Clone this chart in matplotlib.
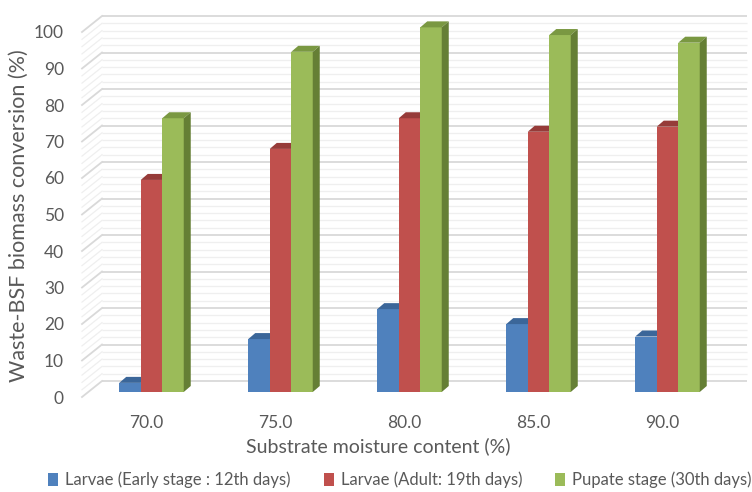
import matplotlib
matplotlib.use("Agg")
import matplotlib.pyplot as plt
from matplotlib.patches import Polygon, Patch

plt.rcParams['font.family'] = ['Lato', 'DejaVu Sans']

# moisture levels and conversion (%) per stage
moisture = ["70.0", "75.0", "80.0", "85.0", "90.0"]
early_larvae = [2.5, 14.5, 22.7, 18.6, 15.2]
adult_larvae = [58.1, 66.6, 75.0, 71.3, 72.7]
pupae = [75.0, 93.2, 99.9, 97.8, 95.7]

series_names = ["Larvae (Early stage : 12th days)",
                "Larvae (Adult: 19th days)",
                "Pupate stage (30th days)"]
front_colors = ["#4F81BD", "#C0504D", "#9BBB59"]
top_colors = ["#3B6699", "#963B39", "#7A9842"]
side_color = "#657F35"
text_color = "#595959"

W, H = 752, 492
fig = plt.figure(figsize=(W / 100, H / 100), dpi=100)
ax = fig.add_axes([82 / W, 95 / H, 645 / W, 365 / H])
ax.set_xlim(-0.5, 4.5)
ax.set_ylim(0, 100)

# pixel -> data conversion for the fake depth
px_x = 1 / 129.0
px_y = 100 / 365.0
wall_dx, wall_dy = 20 * px_x, 16 * px_y
bar_fx, bar_fy = 5 * px_x, 5 * px_y        # bar front plane
bar_ddx, bar_ddy = 7 * px_x, 6 * px_y      # bar depth

# back wall + side wall gridlines
for v in range(0, 101, 2):
    major = v % 10 == 0
    col = "#d9d9d9" if major else "#efefef"
    lw = 1.3 if major else 0.9
    ax.plot([-0.5 + wall_dx, 4.5 + wall_dx], [v + wall_dy, v + wall_dy],
            color=col, lw=lw, zorder=0, clip_on=False, solid_capstyle='butt')
    ax.plot([-0.5, -0.5 + wall_dx], [v, v + wall_dy],
            color=col, lw=lw, zorder=0, clip_on=False)

bw = 0.5 / 3
all_series = [early_larvae, adult_larvae, pupae]
for i in range(len(moisture)):
    for s, vals in enumerate(all_series):
        v = vals[i]
        x0 = i - 0.25 + s * bw + bar_fx
        x1 = x0 + bw
        ax.bar(x0, v, width=bw, bottom=bar_fy, align='edge',
               color=front_colors[s], edgecolor='none', zorder=2 + i, clip_on=False)
        top = [(x0, bar_fy + v), (x1, bar_fy + v),
               (x1 + bar_ddx, bar_fy + v + bar_ddy), (x0 + bar_ddx, bar_fy + v + bar_ddy)]
        ax.add_patch(Polygon(top, closed=True, facecolor=top_colors[s],
                             edgecolor='none', zorder=2 + i, clip_on=False))
        if s == len(all_series) - 1:
            side = [(x1, bar_fy), (x1 + bar_ddx, bar_fy + bar_ddy),
                    (x1 + bar_ddx, bar_fy + v + bar_ddy), (x1, bar_fy + v)]
            ax.add_patch(Polygon(side, closed=True, facecolor=side_color,
                                 edgecolor='none', zorder=2 + i, clip_on=False))

for sp in ax.spines.values():
    sp.set_visible(False)
ax.set_xticks(range(len(moisture)))
ax.set_xticklabels(moisture)
ax.set_yticks(range(0, 101, 10))
ax.tick_params(axis='both', length=0, labelsize=12.5, colors=text_color)
ax.tick_params(axis='x', pad=13)
ax.tick_params(axis='y', pad=13)
ax.patch.set_visible(False)

fig.text(19 / W, 1 - 216 / H, "Waste-BSF biomass conversion (%)", rotation=90,
         ha='center', va='center', fontsize=15.5, color=text_color)
fig.text(378 / W, 1 - 446 / H, "Substrate moisture content (%)",
         ha='center', va='center', fontsize=14, color=text_color)

handles = [Patch(facecolor=c, edgecolor='none') for c in front_colors]
fig.legend(handles, series_names, loc='center', bbox_to_anchor=(400 / W, 1 - 480 / H),
           ncol=3, frameon=False, fontsize=12, handlelength=0.6, handleheight=0.9,
           handletextpad=0.4, columnspacing=2.0, labelcolor=text_color)

fig.savefig("out.png", dpi=100)
